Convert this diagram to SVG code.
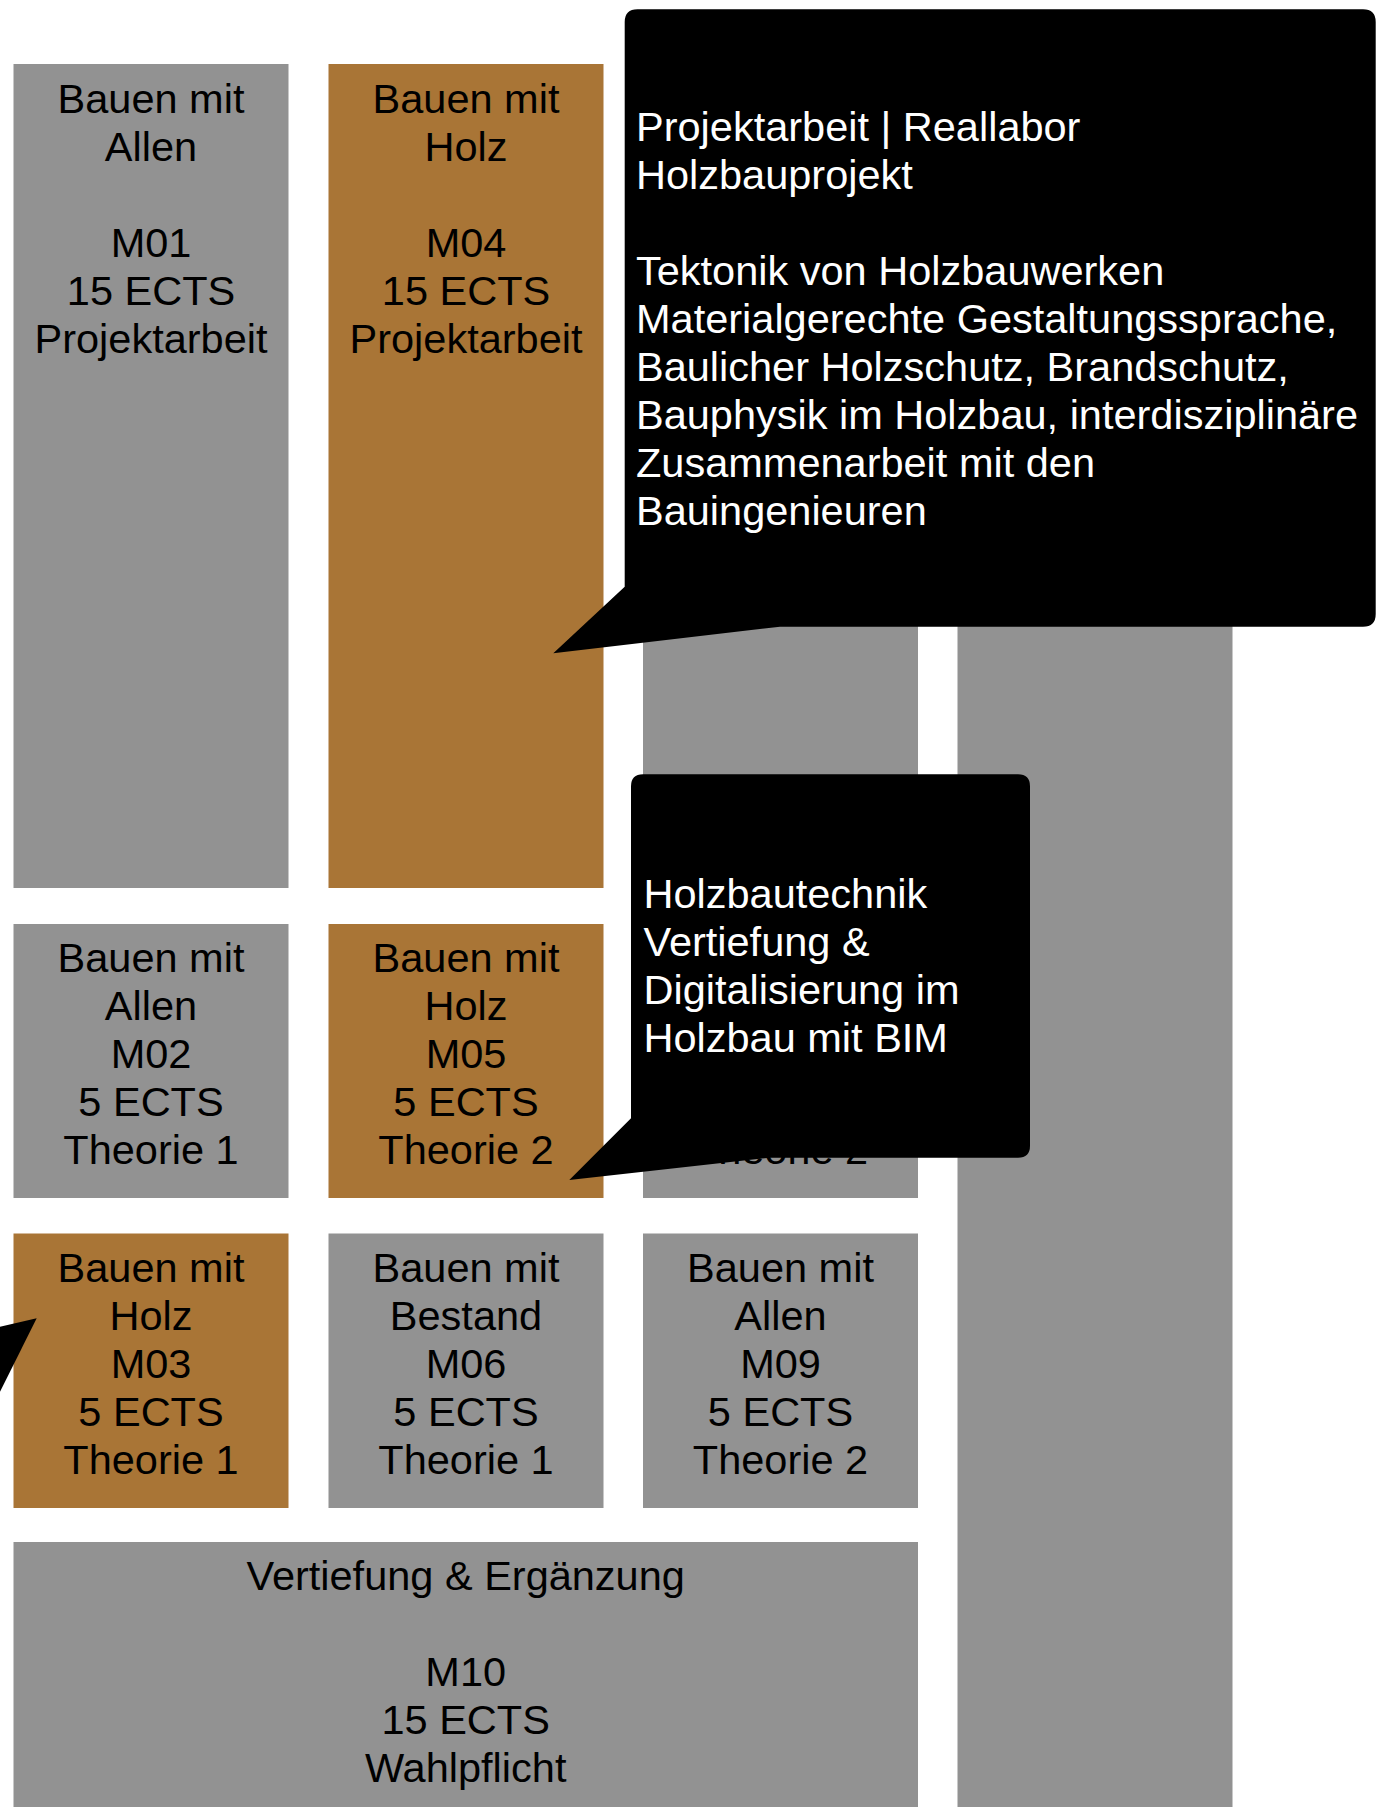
<svg xmlns="http://www.w3.org/2000/svg" width="1378" height="1807" viewBox="0 0 1378 1807">
<style>
.g{fill:#929292}
.b{fill:#A97536}
.t{font-family:"Liberation Sans",Arial,Helvetica,sans-serif;font-size:41.5px;fill:#000;text-anchor:middle}
.w{font-family:"Liberation Sans",Arial,Helvetica,sans-serif;font-size:41.5px;fill:#fff}
.c{fill:#000}
</style>
<rect width="1378" height="1807" fill="#fff"/>
<g id="M01">
<rect class="g" x="13.5" y="64" width="275" height="824"/>
<text class="t"><tspan x="151" y="113">Bauen mit</tspan><tspan x="151" y="161">Allen</tspan><tspan x="151" y="257">M01</tspan><tspan x="151" y="305">15 ECTS</tspan><tspan x="151" y="353">Projektarbeit</tspan></text>
</g>
<g id="M04">
<rect class="b" x="328.5" y="64" width="275" height="824"/>
<text class="t"><tspan x="466" y="113">Bauen mit</tspan><tspan x="466" y="161">Holz</tspan><tspan x="466" y="257">M04</tspan><tspan x="466" y="305">15 ECTS</tspan><tspan x="466" y="353">Projektarbeit</tspan></text>
</g>
<g id="col3-row1">
<rect class="g" x="643" y="64" width="275" height="824"/>
</g>
<g id="col4">
<rect class="g" x="957.5" y="64" width="275" height="1743"/>
</g>
<g id="M02">
<rect class="g" x="13.5" y="924" width="275" height="274"/>
<text class="t"><tspan x="151" y="972">Bauen mit</tspan><tspan x="151" y="1020">Allen</tspan><tspan x="151" y="1068">M02</tspan><tspan x="151" y="1116">5 ECTS</tspan><tspan x="151" y="1164">Theorie 1</tspan></text>
</g>
<g id="M05">
<rect class="b" x="328.5" y="924" width="275" height="274"/>
<text class="t"><tspan x="466" y="972">Bauen mit</tspan><tspan x="466" y="1020">Holz</tspan><tspan x="466" y="1068">M05</tspan><tspan x="466" y="1116">5 ECTS</tspan><tspan x="466" y="1164">Theorie 2</tspan></text>
</g>
<g id="col3-row2">
<rect class="g" x="643" y="924" width="275" height="274"/>
<text class="t" x="780.5" y="1164">Theorie 2</text>
</g>
<g id="M03">
<rect class="b" x="13.5" y="1233.5" width="275" height="274.5"/>
<text class="t"><tspan x="151" y="1282">Bauen mit</tspan><tspan x="151" y="1330">Holz</tspan><tspan x="151" y="1378">M03</tspan><tspan x="151" y="1426">5 ECTS</tspan><tspan x="151" y="1474">Theorie 1</tspan></text>
</g>
<g id="M06">
<rect class="g" x="328.5" y="1233.5" width="275" height="274.5"/>
<text class="t"><tspan x="466" y="1282">Bauen mit</tspan><tspan x="466" y="1330">Bestand</tspan><tspan x="466" y="1378">M06</tspan><tspan x="466" y="1426">5 ECTS</tspan><tspan x="466" y="1474">Theorie 1</tspan></text>
</g>
<g id="M09">
<rect class="g" x="643" y="1233.5" width="275" height="274.5"/>
<text class="t"><tspan x="780.5" y="1282">Bauen mit</tspan><tspan x="780.5" y="1330">Allen</tspan><tspan x="780.5" y="1378">M09</tspan><tspan x="780.5" y="1426">5 ECTS</tspan><tspan x="780.5" y="1474">Theorie 2</tspan></text>
</g>
<g id="M10">
<rect class="g" x="13.5" y="1542" width="904.5" height="265"/>
<text class="t"><tspan x="465.7" y="1590">Vertiefung &amp; Ergänzung</tspan><tspan x="465.7" y="1686">M10</tspan><tspan x="465.7" y="1734">15 ECTS</tspan><tspan x="465.7" y="1782">Wahlpflicht</tspan></text>
</g>
<g id="connectors"></g>
<g id="callout-M04">
<path class="c" d="M637.5,9.3 H1363 Q1375.7,9.3 1375.7,22 V614 Q1375.7,626.7 1363,626.7 H780 L553.3,653.3 L624.7,586.7 V22 Q624.7,9.3 637.5,9.3 Z"/>
<text class="w"><tspan x="636" y="141">Projektarbeit | Reallabor</tspan><tspan x="636" y="189">Holzbauprojekt</tspan><tspan x="636" y="285">Tektonik von Holzbauwerken</tspan><tspan x="636" y="333">Materialgerechte Gestaltungssprache,</tspan><tspan x="636" y="381">Baulicher Holzschutz, Brandschutz,</tspan><tspan x="636" y="429">Bauphysik im Holzbau, interdisziplinäre</tspan><tspan x="636" y="477">Zusammenarbeit mit den</tspan><tspan x="636" y="525">Bauingenieuren</tspan></text>
</g>
<g id="callout-M05">
<path class="c" d="M643,774.3 H1018 Q1030,774.3 1030,786.3 V1145.7 Q1030,1157.7 1018,1157.7 H770 L569.3,1180 L631,1118.3 V786.3 Q631,774.3 643,774.3 Z"/>
<text class="w"><tspan x="643.5" y="908">Holzbautechnik</tspan><tspan x="643.5" y="956">Vertiefung &amp;</tspan><tspan x="643.5" y="1004">Digitalisierung im</tspan><tspan x="643.5" y="1052">Holzbau mit BIM</tspan></text>
</g>
<g id="callout-M03">
<polygon class="c" points="0,1326.7 36.7,1318.3 0,1391.7"/>
</g>
</svg>
